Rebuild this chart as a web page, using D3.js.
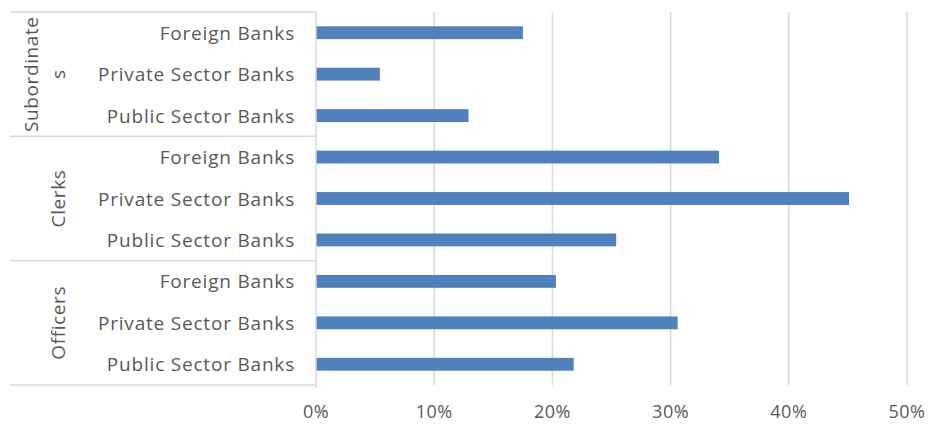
<!DOCTYPE html>
<html><head><meta charset="utf-8">
<script src="https://cdn.jsdelivr.net/npm/d3@7"></script>
<style>body{margin:0;background:#fff}svg{display:block}text{font-family:"Open Sans",Lato,sans-serif;fill:#595959}</style>
</head><body><svg id="c" width="928" height="425"></svg>
<script>
const groups = ["Subordinates", "Clerks", "Officers"];
const categories = ["Foreign Banks", "Private Sector Banks", "Public Sector Banks"];
const subordinatesValues = [0.175, 0.054, 0.129];
const clerksValues = [0.341, 0.451, 0.254];
const officersValues = [0.203, 0.306, 0.218];
const xTicks = [0, 0.1, 0.2, 0.3, 0.4, 0.5];

const valuesByGroup = [subordinatesValues, clerksValues, officersValues];
const rows = [];
groups.forEach((g, gi) => categories.forEach((c, ci) => rows.push({key: g + "|" + c, group: g, cat: c, value: valuesByGroup[gi][ci]})));

const svg = d3.select("#c");
const mLeft = 316, mRight = 907, mTop = 12, mBottom = 385;
const x = d3.scaleLinear().domain([0, 0.5]).range([mLeft, mRight]);
const y = d3.scaleBand().domain(rows.map(d => d.key)).range([mTop, mBottom]).paddingInner(0.69).paddingOuter(0.345);

// gridlines
svg.append("g").selectAll("line").data(xTicks.slice(1)).join("line")
  .attr("x1", d => x(d)).attr("x2", d => x(d)).attr("y1", mTop).attr("y2", mBottom)
  .attr("stroke", "#d9d9d9").attr("stroke-width", 1.5);

// bars
svg.append("g").selectAll("rect").data(rows).join("rect")
  .attr("x", x(0)).attr("y", d => y(d.key)).attr("width", d => x(d.value) - x(0))
  .attr("height", y.bandwidth()).attr("fill", "#4f81bd");

// category axis line
svg.append("line").attr("x1", mLeft).attr("x2", mLeft).attr("y1", mTop).attr("y2", mBottom + 3)
  .attr("stroke", "#d9d9d9").attr("stroke-width", 1.5);

// group separators
const step = y.step();
const sepYs = [mTop, mTop + 3 * step, mTop + 6 * step, mBottom];
svg.append("g").selectAll("line").data(sepYs).join("line")
  .attr("x1", 10).attr("x2", mLeft).attr("y1", d => d).attr("y2", d => d)
  .attr("stroke", "#d9d9d9").attr("stroke-width", 1.5);

// category labels
svg.append("g").selectAll("text").data(rows).join("text")
  .attr("x", mLeft - 21).attr("y", d => y(d.key) + y.bandwidth() / 2)
  .attr("text-anchor", "end").attr("dominant-baseline", "central")
  .style("font-size", "19px").style("letter-spacing", "0.8px").text(d => d.cat);

// group labels (rotated)
const groupLines = [["Subordinate", "s"], ["Clerks"], ["Officers"]];
groups.forEach((g, gi) => {
  const cy = mTop + (gi * 3 + 1.5) * step;
  const lines = groupLines[gi];
  lines.forEach((ln, li) => {
    const cx = lines.length === 2 ? (li === 0 ? 31 : 58) : 58;
    svg.append("text").attr("transform", `translate(${cx},${cy}) rotate(-90)`)
      .attr("text-anchor", "middle").attr("dominant-baseline", "central")
      .style("font-size", "19px").style("letter-spacing", "0.6px").text(ln);
  });
});

// x axis labels
svg.append("g").selectAll("text").data(xTicks).join("text")
  .attr("x", d => x(d)).attr("y", 411).attr("text-anchor", "middle").attr("dominant-baseline", "central")
  .style("font-size", "18px").style("letter-spacing", "0.5px").text(d => d3.format(".0%")(d));
</script></body></html>
